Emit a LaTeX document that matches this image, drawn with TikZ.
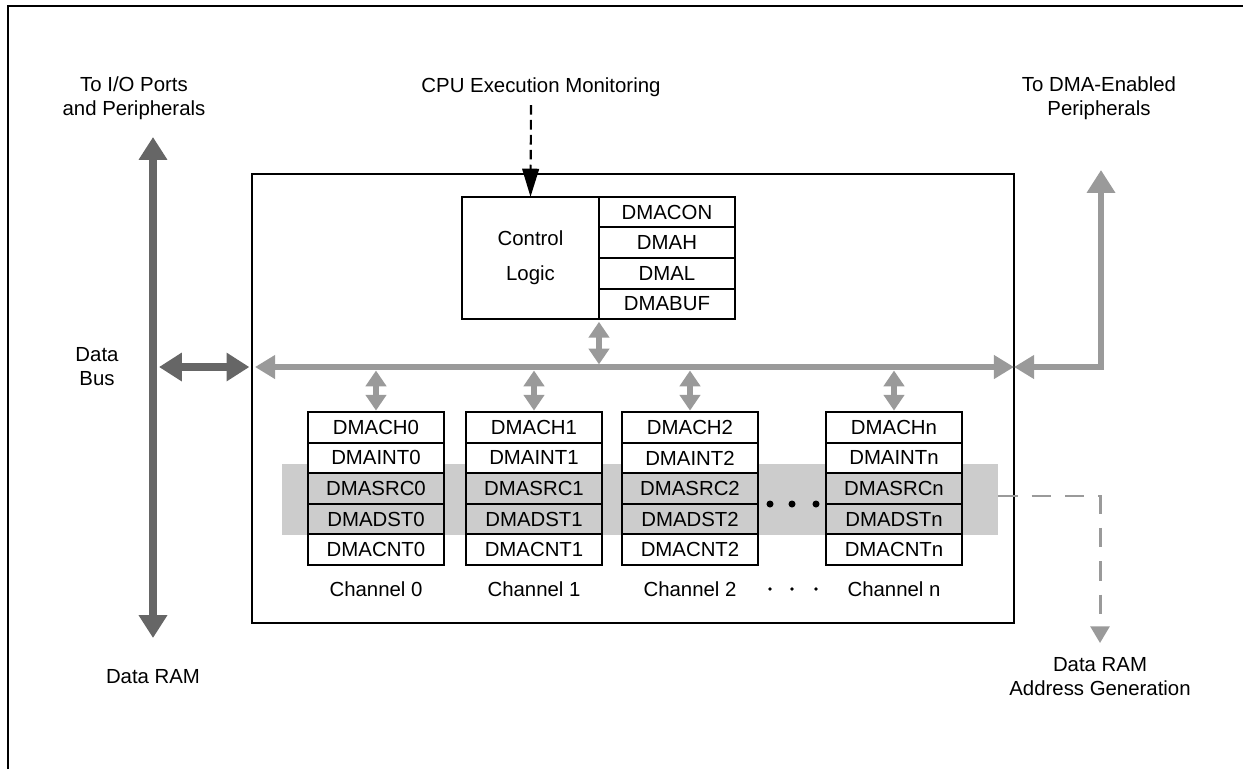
\documentclass[tikz,border=0pt]{standalone}
\usepackage{fontspec}
\setmainfont{Liberation Sans}
\usetikzlibrary{arrows.meta,positioning}
\definecolor{busdark}{HTML}{666666}
\definecolor{buslight}{HTML}{9A9A9A}
\definecolor{bandgray}{HTML}{CCCCCC}
\newcommand{\dmafont}{\fontsize{11.6}{13.6}\selectfont}

\begin{document}
\begin{tikzpicture}[x=0.02cm,y=-0.02cm,
  reg/.style={draw,line width=1.1pt,outer sep=0pt,inner sep=0pt,
              minimum width=2.72cm,minimum height=0.612cm,font=\dmafont},
  lbl/.style={align=center,font=\dmafont},
  darkbus/.style={draw=busdark,line width=4.2pt,
              {Triangle[width=15.5pt,length=13pt]}-{Triangle[width=15.5pt,length=13pt]}},
  mainbus/.style={draw=buslight,line width=3.6pt,
              {Triangle[width=13pt,length=11.5pt]}-{Triangle[width=13pt,length=11.5pt]}},
  chbus/.style={draw=buslight,line width=3.4pt,
              {Triangle[width=11.5pt,length=9pt]}-{Triangle[width=11.5pt,length=9pt]}},
  cpuarrow/.style={draw=black,line width=1.2pt,dash pattern=on 5.5pt off 3pt,
              -{Triangle[width=9.5pt,length=16pt]}},
  adrarrow/.style={draw=buslight,line width=1.7pt,dash pattern=on 11pt off 8pt,
              -{Triangle[width=10.8pt,length=9.5pt]}}
]
\useasboundingbox (0,0) rectangle (1243,769);

% ---- Frame --------------------------------------------------
\draw[line width=1.4pt] (8,769) -- (8,6) -- (1243,6);

% ---- DMA module and highlight band ---------------------------
\node[fill=bandgray,minimum width=14.32cm,minimum height=1.42cm,inner sep=0pt] (band) at (640,499.5) {};
\node[draw,line width=1.1pt,minimum width=15.24cm,minimum height=8.98cm] (dma) at (633,398.5) {};

% ---- Control logic and its registers -------------------------
\node[draw,line width=1.1pt,outer sep=0pt,minimum width=2.74cm,minimum height=2.448cm,
      align=center,font=\fontsize{11.6}{20}\selectfont] (ctl) at (530.5,258) {Control\\Logic};
\node[reg,anchor=north west] (dmacon) at (ctl.north east) {DMACON};
\node[reg,below=0pt of dmacon] (dmah) {DMAH};
\node[reg,below=0pt of dmah] (dmal) {DMAL};
\node[reg,below=0pt of dmal] (dmabuf) {DMABUF};

% ---- Internal bus -------------------------------------------
\coordinate (busL) at (255,367);
\coordinate (busR) at (1014,367);
\draw[mainbus] (busL) -- (busR);
\draw[chbus,shorten <=1.5pt,shorten >=1.5pt] (ctl.south east) -- (ctl.south east |- busL);

% ---- Channels -----------------------------------------------
\foreach \i/\x in {0/376,1/534,2/690,n/894}{
  \node[reg,fill=white] (ch\i) at (\x,427.3) {DMACH\i};
  \node[reg,fill=white,below=0pt of ch\i] (int\i) {DMAINT\i};
  \node[reg,below=0pt of int\i] (src\i) {DMASRC\i};
  \node[reg,below=0pt of src\i] (dst\i) {DMADST\i};
  \node[reg,fill=white,below=0pt of dst\i] (cnt\i) {DMACNT\i};
  \node[lbl] (lab\i) at (\x,589) {Channel \i};
  \draw[chbus,shorten <=2pt,shorten >=0.8pt] (busL -| ch\i.north) -- (ch\i.north);
}

% dots between channel 2 and channel n
\foreach \x in {770,792,816}{
  \fill (\x,504) circle[radius=2pt];
  \fill (\x,589) circle[radius=1.1pt];
}

% ---- Data bus (left) ----------------------------------------
\coordinate (ioTop) at (153,137);
\coordinate (ramBot) at (153,638);
\coordinate (dbL) at (159,367);
\draw[darkbus] (ramBot) -- (ioTop);
\draw[darkbus,line width=4.5pt,shorten >=1pt] (dbL) -- (dma.west |- busL);

% ---- Peripherals (right) ------------------------------------
\coordinate (perTop) at (1101,170);
\draw[draw=buslight,line width=3.6pt,
      {Triangle[width=13pt,length=11.5pt]}-{Triangle[width=15.5pt,length=13pt]}] (busR) -| (perTop);

% ---- Monitoring and address outputs -------------------------
\coordinate (cpuSrc) at (531,105);
\draw[cpuarrow] (cpuSrc) -- (ctl.north);
\coordinate (adrOut) at (1100,643);
\draw[adrarrow] ([yshift=2pt]band.east) -| (adrOut);

% ---- Labels -------------------------------------------------
\node[lbl] (iolab) at (134,98.5) {To I/O Ports\\and Peripherals};
\node[lbl] (buslab) at (97,366.5) {Data\\Bus};
\node[lbl] (ramlab) at (153,677) {Data RAM};
\node[lbl] (cpulab) at (541,87) {CPU Execution Monitoring};
\node[lbl] (perlab) at (1099,98.5) {To DMA-Enabled\\Peripherals};
\node[lbl] (adrlab) at (1100,677) {Data RAM\\Address Generation};

\end{tikzpicture}
\end{document}
